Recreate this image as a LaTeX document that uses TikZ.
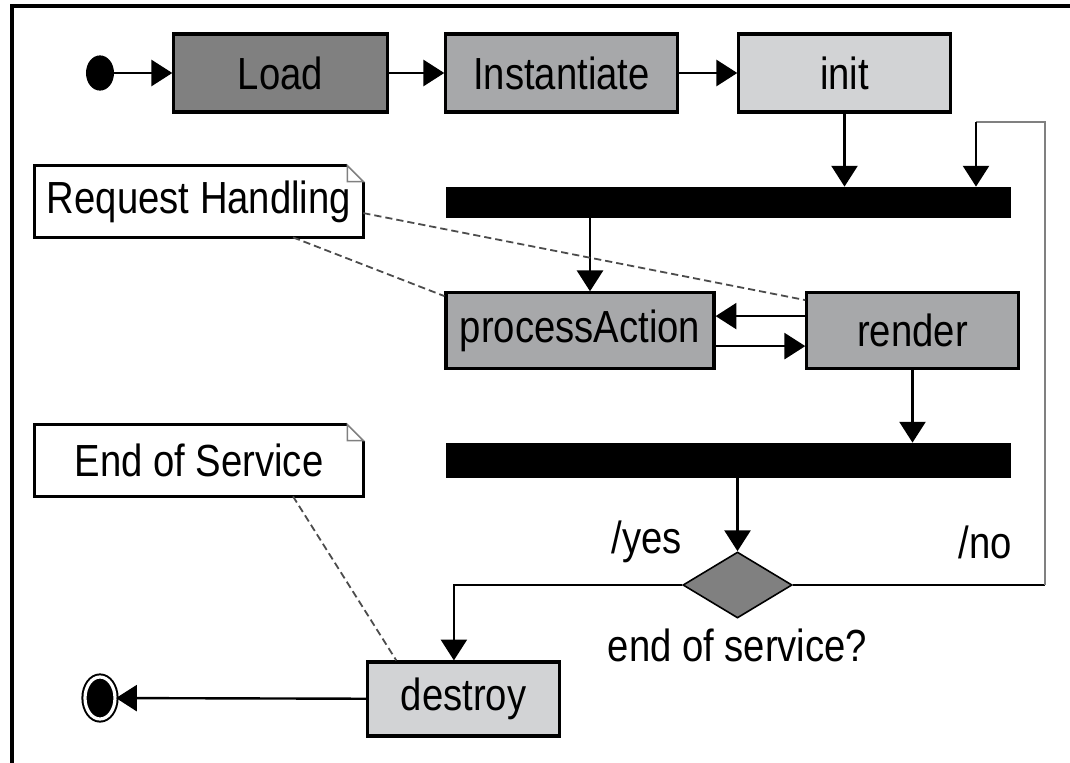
\documentclass[tikz,border=0pt]{standalone}
\usepackage{fontspec}
\setmainfont[FakeStretch=0.85]{Liberation Sans}
\usetikzlibrary{positioning,shapes.geometric,arrows.meta}

\definecolor{stdark}{HTML}{808080}
\definecolor{stmid}{HTML}{A7A8AA}
\definecolor{stlight}{HTML}{D2D3D5}

\begin{document}
\begin{tikzpicture}[x=0.025cm, y=-0.025cm,
                    every node/.style={font=\fontsize{32}{38}\selectfont, inner sep=0pt},
                    state/.style={draw, line width=0.08cm, minimum height=1.95cm},
                    bar/.style={fill=black, minimum width=14.13cm},
                    note/.style={minimum width=8.2cm, minimum height=1.78cm},
                    edge/.style={line width=0.06cm, -{Triangle[length=0.52cm, width=0.65cm]}},
                    link/.style={line width=0.045cm, gray!60!black, dash pattern=on 0.18cm off 0.1cm},
                ]
                \useasboundingbox (0,0) rectangle (1070,762);
                \draw[line width=0.08cm] (12,780) -- (12,6) -- (1080,6);
                %Nodes
                \node[ellipse, fill=black, minimum width=0.7cm, minimum height=0.88cm] (start) at (100,73) {};
                \node[state, fill=stdark, minimum width=5.33cm]  (load) at (280.5,73) {Load};
                \node[state, fill=stmid, minimum width=5.78cm]   (inst) at (561.5,73) {Instantiate};
                \node[state, fill=stlight, minimum width=5.28cm] (init) at (844.5,73) {init};
                \node[bar, minimum height=0.78cm] (fork) at (728.5,202.5) {};
                \node[state, fill=stmid, minimum width=6.7cm, minimum height=1.88cm]  (proc)   at (580,330.5)   {processAction};
                \node[state, fill=stmid, minimum width=5.28cm, minimum height=1.88cm] (render) at (912.5,330.5) {render};
                \node[bar, minimum height=0.88cm] (join) at (728.5,460.5) {};
                \node[diamond, draw, fill=stdark, line width=0.04cm, minimum width=2.73cm, minimum height=1.65cm] (dec) at (737.5,585) {};
                \node (question) [below=0.25cm of dec] {end of service?};
                \node (yes) at (647,542) {/yes};
                \node (no)  at (985,542) {/no};
                \node[state, fill=stlight, minimum width=4.78cm, minimum height=1.85cm] (destroy) at (463.5,699) {destroy};
                \node[ellipse, fill=black, draw, line width=0.05cm, double, double distance=0.08cm, minimum width=0.75cm, minimum height=1.05cm] (stop) at (100,698) {};
                \node[note] (rh)  at (199,201.5) {Request Handling};
                \node[note] (eos) at (199,460.5) {End of Service};
                %Notes
                \draw[line width=0.08cm] ([xshift=-0.4cm]rh.north east) -- (rh.north west) -- (rh.south west) -- (rh.south east) -- ([yshift=-0.4cm]rh.north east);
                \draw[line width=0.04cm, gray] ([xshift=-0.4cm]rh.north east) |- ([yshift=-0.4cm]rh.north east) -- cycle;
                \draw[line width=0.08cm] ([xshift=-0.4cm]eos.north east) -- (eos.north west) -- (eos.south west) -- (eos.south east) -- ([yshift=-0.4cm]eos.north east);
                \draw[line width=0.04cm, gray] ([xshift=-0.4cm]eos.north east) |- ([yshift=-0.4cm]eos.north east) -- cycle;
                %Edges
                \draw[edge] (start) -- (load);
                \draw[edge] (load) -- (inst);
                \draw[edge] (inst) -- (init);
                \draw[edge] (init) -- (init |- fork.north);
                \coordinate (loop) at (1045,122);
                \coordinate (back) at (976,122);
                \draw[line width=0.06cm] (dec.east) -- (dec.east -| loop);
                \draw[line width=0.04cm, gray] (dec.east -| loop) -- (loop) -- (back);
                \draw[edge] (back) -- (back |- fork.north);
                \draw[edge] ([xshift=0.25cm]fork.south -| proc.north) -- ([xshift=0.25cm]proc.north);
                \path ([yshift=0.36cm]render.west) coordinate (r1);
                \path ([yshift=-0.39cm]proc.east) coordinate (p1);
                \draw[edge] (r1) -- (r1 -| proc.east);
                \draw[edge] (p1) -- (p1 -| render.west);
                \draw[edge] (render) -- (render |- join.north);
                \draw[edge] (join.south -| dec) -- (dec);
                \draw[edge] (dec.west) -| ([xshift=-0.24cm]destroy.north);
                \draw[edge] (destroy) -- (stop);
                %Note links
                \draw[link] ([yshift=-0.29cm]rh.east) -- ([yshift=-0.22cm]render.north west);
                \draw[link] ([xshift=2.35cm]rh.south) -- ([yshift=-0.12cm]proc.north west);
                \draw[link] ([xshift=2.35cm]eos.south) -- ([xshift=0.75cm]destroy.north west);
            \end{tikzpicture}
\end{document}
